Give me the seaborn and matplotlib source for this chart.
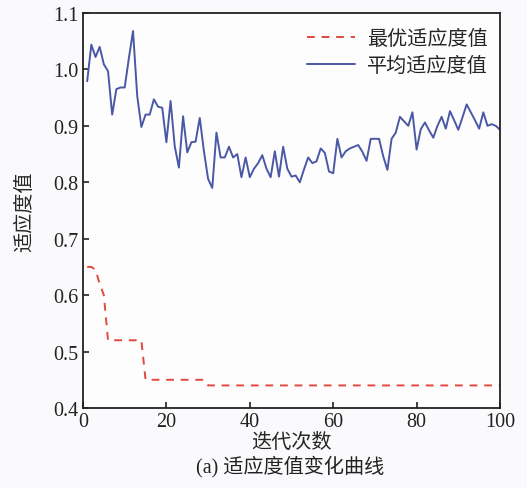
import numpy as np
import pandas as pd
import matplotlib
matplotlib.use("Agg")
import matplotlib.pyplot as plt
import seaborn as sns

# 迭代次数
iters = list(range(1, 101))

# 最优适应度值
best_fit = [0.65, 0.65, 0.645, 0.62, 0.60] + [0.52] * 9 + [0.45] * 15 + [0.44] * 71

# 平均适应度值
mean_fit = [
    0.979, 1.044, 1.022, 1.040, 1.009, 0.997, 0.920, 0.965, 0.968, 0.968,
    1.020, 1.068, 0.953, 0.898, 0.920, 0.920, 0.947, 0.934, 0.932, 0.871,
    0.944, 0.864, 0.826, 0.917, 0.853, 0.871, 0.872, 0.914, 0.855, 0.806,
    0.790, 0.888, 0.844, 0.844, 0.863, 0.844, 0.850, 0.809, 0.844, 0.809,
    0.824, 0.834, 0.848, 0.824, 0.809, 0.855, 0.810, 0.863, 0.824, 0.810,
    0.812, 0.800, 0.823, 0.844, 0.834, 0.837, 0.860, 0.852, 0.819, 0.816,
    0.877, 0.844, 0.855, 0.860, 0.863, 0.866, 0.854, 0.838, 0.877, 0.877,
    0.877, 0.846, 0.822, 0.877, 0.888, 0.916, 0.908, 0.900, 0.924, 0.858,
    0.894, 0.906, 0.892, 0.879, 0.900, 0.916, 0.895, 0.926, 0.910, 0.893,
    0.915, 0.938, 0.924, 0.910, 0.895, 0.924, 0.900, 0.903, 0.900, 0.893,
]

sns.set_style("ticks")
fonts = ["Liberation Serif", "Noto Sans CJK SC", "DejaVu Sans"]
plt.rcParams["font.family"] = fonts
plt.rcParams["axes.unicode_minus"] = False

df = pd.DataFrame({"iter": iters * 2,
                   "val": best_fit + mean_fit,
                   "kind": ["最优适应度值"] * 100 + ["平均适应度值"] * 100})

fig = plt.figure(figsize=(5.27, 4.89), dpi=100, facecolor="#fafafc")
ax = fig.add_axes([83 / 527, 1 - 409 / 489, 417 / 527, 395 / 489])
ax.set_facecolor("#fdfdfe")

sns.lineplot(data=df, x="iter", y="val", hue="kind", style="kind",
             palette={"最优适应度值": "#e04a3c", "平均适应度值": "#4a58a6"},
             dashes={"最优适应度值": (4, 3.5), "平均适应度值": ""},
             linewidth=1.4, ax=ax)

ax.set_xlim(0, 100)
ax.set_ylim(0.4, 1.1)
ax.set_xticks([0, 20, 40, 60, 80, 100])
ax.set_yticks(np.arange(0.4, 1.11, 0.1))
ax.set_yticklabels(["0.4", "0.5", "0.6", "0.7", "0.8", "0.9", "1.0", "1.1"])
ax.tick_params(direction="in", length=4, width=1.2, labelsize=14.5, pad=3,
               colors="#222222")
for s in ax.spines.values():
    s.set_linewidth(1.3)
    s.set_color("#222222")

ax.set_xlabel("迭代次数", fontsize=14.5)
ax.set_ylabel("适应度值", fontsize=14.5)
ax.xaxis.set_label_coords(0.5, -0.088)
ax.xaxis.label.set_va("center")
ax.yaxis.set_label_coords(-0.138, 0.5)
ax.yaxis.label.set_va("center")

leg = ax.legend(loc="upper right", bbox_to_anchor=(0.99, 0.977),
                frameon=False, fontsize=14.5, handlelength=2.4,
                handletextpad=0.6, borderaxespad=0, labelspacing=0.4)

fig.text(290 / 527, 1 - 467 / 489, "(a) 适应度值变化曲线", ha="center",
         va="center", fontsize=14.5, color="#222222")

fig.savefig("out.png", dpi=100, facecolor=fig.get_facecolor())
